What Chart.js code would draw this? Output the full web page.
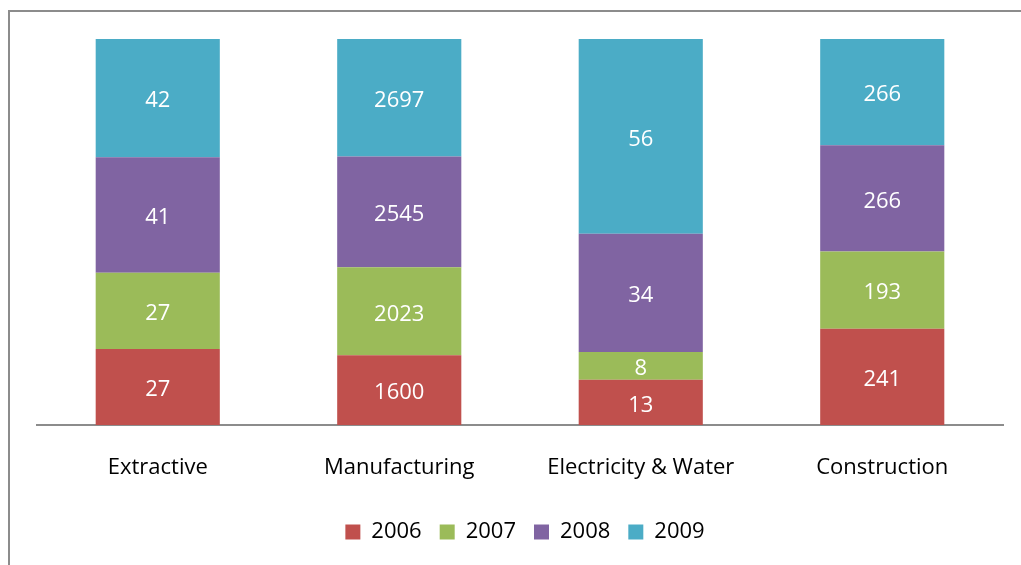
<!DOCTYPE html>
<html>
<head>
<meta charset="utf-8">
<script src="https://cdn.jsdelivr.net/npm/chart.js@4"></script>
<style>
  html, body { margin: 0; padding: 0; background: #fff; overflow: hidden; }
  #wrap { width: 1021px; height: 565px; position: relative; }
</style>
</head>
<body>
<div id="wrap"><canvas id="sectorChart" width="1021" height="565"></canvas></div>
<script>
const categories = ['Extractive', 'Manufacturing', 'Electricity & Water', 'Construction'];
const years = ['2006', '2007', '2008', '2009'];
const values2006 = [27, 1600, 13, 241];
const values2007 = [27, 2023, 8, 193];
const values2008 = [41, 2545, 34, 266];
const values2009 = [42, 2697, 56, 266];
const colors = ['#C0504D', '#9BBB59', '#8064A2', '#4BACC6'];

const series = [values2006, values2007, values2008, values2009];
const totals = categories.map((c, i) => series.reduce((s, arr) => s + arr[i], 0));

const FONT = '"Open Sans", Lato, sans-serif';

// frame line on left/top like the original picture
const framePlugin = {
    id: 'frame',
    beforeDraw(chart) {
        const ctx = chart.ctx;
        ctx.save();
        ctx.strokeStyle = '#8c8c8c';
        ctx.lineWidth = 2;
        ctx.beginPath();
        ctx.moveTo(9, 565);
        ctx.lineTo(9, 11);
        ctx.lineTo(1021, 11);
        ctx.stroke();
        ctx.restore();
    }
};

// nudge legend a few px right
const legendShift = {
    id: 'legendShift',
    afterLayout(chart) {
        if (chart.legend) {
            chart.legend.left += 5;
            chart.legend.right += 5;
        }
    }
};

// raw values written in the middle of each segment
const valueLabels = {
    id: 'valueLabels',
    afterDatasetsDraw(chart) {
        const ctx = chart.ctx;
        ctx.save();
        ctx.fillStyle = '#ffffff';
        ctx.font = '22px ' + FONT;
        ctx.textAlign = 'center';
        ctx.textBaseline = 'middle';
        chart.data.datasets.forEach((ds, di) => {
            const meta = chart.getDatasetMeta(di);
            meta.data.forEach((bar, i) => {
                const y = (bar.y + bar.base) / 2;
                ctx.fillText(String(ds.raw[i]), bar.x, y + 3);
            });
        });
        ctx.restore();
    }
};

const ctx = document.getElementById('sectorChart').getContext('2d');

new Chart(ctx, {
    type: 'bar',
    data: {
        labels: categories,
        datasets: years.map((y, k) => ({
            label: y,
            raw: series[k],
            data: series[k].map((v, i) => v / totals[i] * 100),
            backgroundColor: colors[k],
            borderWidth: 0,
            barPercentage: 0.514,
            categoryPercentage: 1
        }))
    },
    options: {
        responsive: false,
        animation: false,
        layout: { padding: { top: 39, left: 37, right: 18, bottom: 12 } },
        plugins: {
            legend: {
                position: 'bottom',
                labels: {
                    boxWidth: 15,
                    boxHeight: 15,
                    padding: 18,
                    color: '#000',
                    font: { family: FONT, size: 22 }
                }
            },
            tooltip: { enabled: false },
            title: { display: false }
        },
        scales: {
            x: {
                stacked: true,
                grid: { display: false, drawTicks: false },
                border: { display: true, color: '#8c8c8c', width: 2 },
                ticks: {
                    color: '#000',
                    padding: 30,
                    font: { family: FONT, size: 22 }
                },
                afterFit(scale) { scale.height = 78; }
            },
            y: {
                stacked: true,
                display: false,
                min: 0,
                max: 100
            }
        }
    },
    plugins: [framePlugin, legendShift, valueLabels]
});
</script>
</body>
</html>
